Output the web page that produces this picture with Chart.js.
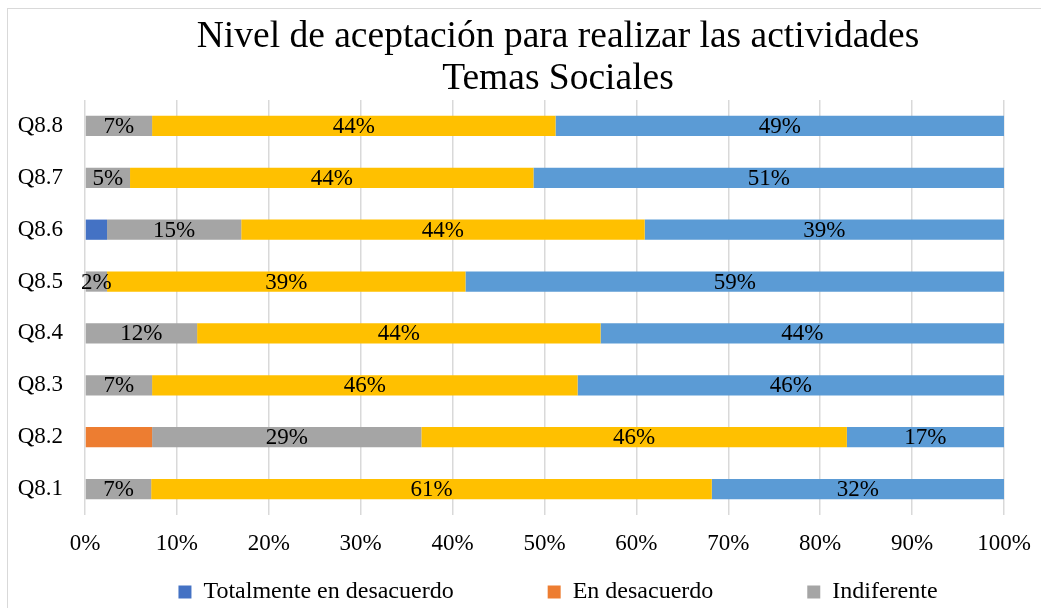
<!DOCTYPE html>
<html lang="es">
<head>
<meta charset="utf-8">
<title>Nivel de aceptación - Temas Sociales</title>
<script src="https://cdn.jsdelivr.net/npm/chart.js@4/dist/chart.umd.min.js"></script>
<style>
  html, body { margin: 0; padding: 0; background: #fff; overflow: hidden; }
  body { width: 1041px; height: 608px; position: relative; }
  #marco {
    position: absolute; left: 7px; top: 8px;
    width: 1100px; height: 639px;
    border: 1px solid #d9d9d9; background: #fff;
  }
</style>
</head>
<body>
<div id="marco"><canvas id="grafico"></canvas></div>
<script>
// Datos (porcentaje por pregunta, de Q8.1 a Q8.8)
const preguntas = ["Q8.1", "Q8.2", "Q8.3", "Q8.4", "Q8.5", "Q8.6", "Q8.7", "Q8.8"];
const totalDesacuerdo = [0, 0, 0, 0, 0, 2.4, 0, 0];
const enDesacuerdo = [0, 7.3, 0, 0, 0, 0, 0, 0];
const indiferente = [7.2, 29.3, 7.3, 12.2, 2.4, 14.6, 4.9, 7.3];
const deAcuerdo = [61.0, 46.3, 46.3, 43.9, 39.0, 43.9, 43.9, 43.9];
const totalAcuerdo = [31.8, 17.1, 46.4, 43.9, 58.6, 39.1, 51.2, 48.8];
const ticksX = [0, 10, 20, 30, 40, 50, 60, 70, 80, 90, 100];

const fuente = "'Liberation Serif', 'Times New Roman', serif";
// espacio (en nbsp) que se deja tras cada entrada de la leyenda
const huecoLeyenda = [14, 14, 0, 40, 0];

// etiquetas de porcentaje centradas en cada segmento
const etiquetasPlugin = {
  id: 'etiquetas',
  afterDatasetsDraw(chart) {
    const ctx = chart.ctx;
    ctx.save();
    ctx.font = "23px " + fuente;
    ctx.fillStyle = '#000';
    ctx.textAlign = 'center';
    ctx.textBaseline = 'middle';
    chart.data.datasets.forEach((ds, i) => {
      if (!ds.mostrarEtiqueta) return;
      const meta = chart.getDatasetMeta(i);
      meta.data.forEach((bar, j) => {
        const v = ds.data[j];
        if (!v) return;
        const p = bar.getProps(['x', 'y', 'base'], true);
        ctx.fillText(Math.round(v) + '%', (p.x + p.base) / 2, p.y + 1);
      });
    });
    ctx.restore();
  }
};

const ctx = document.getElementById('grafico').getContext('2d');
new Chart(ctx, {
  type: 'bar',
  data: {
    labels: preguntas,
    datasets: [
      { label: 'Totalmente en desacuerdo', data: totalDesacuerdo, backgroundColor: '#4472C4', mostrarEtiqueta: false },
      { label: 'En desacuerdo', data: enDesacuerdo, backgroundColor: '#ED7D31', mostrarEtiqueta: false },
      { label: 'Indiferente', data: indiferente, backgroundColor: '#A5A5A5', mostrarEtiqueta: true },
      { label: 'De acuerdo', data: deAcuerdo, backgroundColor: '#FFC000', mostrarEtiqueta: true },
      { label: 'Totalmente de acuerdo', data: totalAcuerdo, backgroundColor: '#5B9BD5', mostrarEtiqueta: true }
    ]
  },
  options: {
    indexAxis: 'y',
    responsive: true,
    maintainAspectRatio: false,
    animation: false,
    barPercentage: 0.39,
    categoryPercentage: 1,
    layout: { padding: 0 },
    scales: {
      x: {
        stacked: true,
        min: 0,
        max: 100,
        afterBuildTicks(scale) { scale.ticks = ticksX.map(v => ({ value: v })); },
        afterFit(scale) { scale.height = 55; },
        ticks: {
          color: '#000',
          font: { family: fuente, size: 23 },
          padding: 15,
          callback: v => v + '%'
        },
        grid: { color: '#d9d9d9', lineWidth: 1.5, drawTicks: false },
        border: { display: false }
      },
      y: {
        stacked: true,
        reverse: true,
        afterFit(scale) { scale.width = 77; },
        ticks: {
          color: '#000',
          font: { family: fuente, size: 23 },
          padding: 22
        },
        grid: { display: false, drawTicks: false },
        border: { display: false }
      },
      // eje vacío a la derecha: deja el margen del área de trazado
      derecha: {
        axis: 'y',
        type: 'linear',
        position: 'right',
        afterFit(scale) { scale.width = 104; },
        ticks: { display: false },
        grid: { display: false, drawTicks: false },
        border: { display: false }
      }
    },
    plugins: {
      title: {
        display: true,
        text: ['Nivel de aceptación para realizar las actividades', 'Temas Sociales'],
        color: '#000',
        font: { family: fuente, size: 37.5, weight: 'normal', lineHeight: 1.12 },
        padding: { top: 7, bottom: 0 }
      },
      legend: {
        position: 'bottom',
        labels: {
          color: '#000',
          font: { family: fuente, size: 24 },
          boxWidth: 13,
          boxHeight: 13,
          padding: 10,
          generateLabels(chart) {
            const items = Chart.defaults.plugins.legend.labels.generateLabels(chart);
            items.forEach((it, i) => { it.text += '\u00a0'.repeat(huecoLeyenda[i] || 0); });
            return items;
          }
        }
      },
      tooltip: { enabled: false }
    }
  },
  plugins: [etiquetasPlugin]
});
</script>
</body>
</html>
